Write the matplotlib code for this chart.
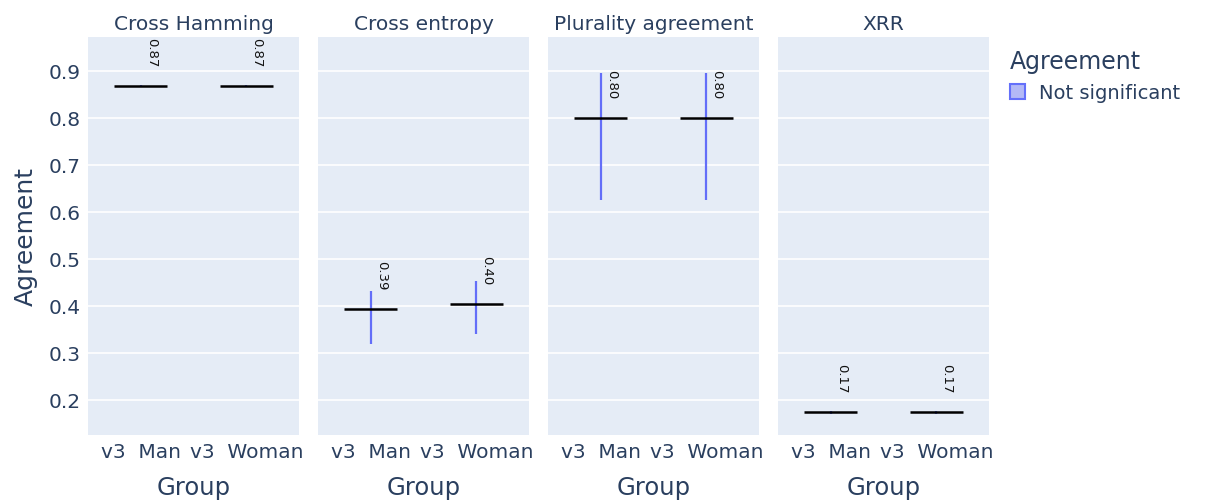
import matplotlib.pyplot as plt
from matplotlib.patches import Patch

plt.rcParams['font.family'] = ['DejaVu Sans']

metrics = ['Cross Hamming', 'Cross entropy', 'Plurality agreement', 'XRR']
groups = ['v3  Man', 'v3  Woman']
means = [[0.868, 0.868], [0.394, 0.404], [0.800, 0.800], [0.174, 0.174]]
lows = [[0.866, 0.866], [0.318, 0.340], [0.626, 0.626], [0.170, 0.170]]
highs = [[0.869, 0.869], [0.431, 0.453], [0.896, 0.896], [0.176, 0.176]]

txt = '#2a3f5f'
bg = '#e5ecf6'
vcol = '#636ef8'

fig = plt.figure(figsize=(12.08, 5.02), dpi=100)
W, H = 1208, 502
lefts = [88, 318, 548, 778]
axes = []
for i, name in enumerate(metrics):
    ax = fig.add_axes([lefts[i] / W, 1 - 436 / H, 211 / W, 398 / H])
    axes.append(ax)
    ax.set_facecolor(bg)
    for s in ax.spines.values():
        s.set_visible(False)
    ax.set_xlim(-0.5, 1.5)
    ax.set_ylim(0.1255, 0.972)
    ax.set_yticks([0.2, 0.3, 0.4, 0.5, 0.6, 0.7, 0.8, 0.9])
    ax.grid(axis='y', color='white', lw=1.2)
    ax.set_axisbelow(True)
    ax.tick_params(length=0, labelsize=14.5, colors=txt, pad=5)
    ax.set_xticks(range(len(groups)))
    ax.set_xticklabels(groups)
    if i > 0:
        ax.set_yticklabels([])
    ax.set_title(name, fontsize=14.5, color=txt, pad=6)
    ax.set_xlabel('Group', fontsize=17.5, color=txt, labelpad=10)

    for j in range(len(groups)):
        ax.vlines(j, lows[i][j], highs[i][j], color=vcol, lw=1.6, zorder=2)
        ax.hlines(means[i][j], j - 0.25, j + 0.25, color='black', lw=1.8, zorder=3)
        ax.annotate(f'{means[i][j]:.2f}', (j, means[i][j]), xytext=(7.5, 14),
                    textcoords='offset points', rotation=-90, ha='center',
                    va='bottom', fontsize=9.5, color='#111111')

axes[0].set_ylabel('Agreement', fontsize=18, color=txt, labelpad=8)

h = Patch(facecolor='#b3b9f6', edgecolor='#6470fa', lw=1.5)
leg = fig.legend([h], ['Not significant'], title='Agreement', loc='upper left',
                 bbox_to_anchor=(992 / W, 1 - 33 / H), frameon=False,
                 fontsize=14, title_fontsize=17, handlelength=0.8,
                 handleheight=0.8, handletextpad=0.7, labelcolor=txt)
leg.get_title().set_color(txt)
leg._legend_box.align = 'left'

fig.savefig('out.png', dpi=100)
